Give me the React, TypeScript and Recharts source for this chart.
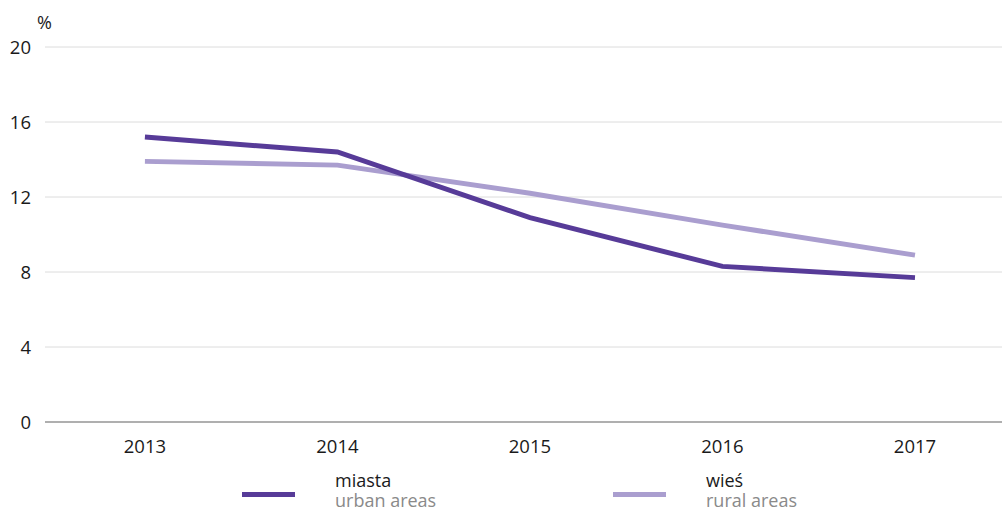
import React from 'react';
import { LineChart, Line, XAxis, YAxis, CartesianGrid } from 'recharts';

const years = [2013, 2014, 2015, 2016, 2017];
const urban = [15.2, 14.4, 10.9, 8.3, 7.7];
const rural = [13.9, 13.7, 12.2, 10.5, 8.9];
const yTicks = [0, 4, 8, 12, 16, 20];

const data = years.map((y, i) => ({ year: y, urban: urban[i], rural: rural[i] }));

const DARK = '#573b98';
const LIGHT = '#aa9ecf';
const FONT = '"Open Sans", sans-serif';

const legendItems = [
  { key: 'urban', pl: 'miasta', en: 'urban areas', color: DARK, x: 242 },
  { key: 'rural', pl: 'wieś', en: 'rural areas', color: LIGHT, x: 613 },
];

const LegendBlock = () => (
  <>
    {legendItems.map((it) => (
      <div key={it.key} style={{ position: 'absolute', left: it.x, top: 470 }}>
        <div style={{ position: 'absolute', left: 0, top: 21.5, width: 53, height: 5, background: it.color }} />
        <div style={{ position: 'absolute', left: 93, top: 0, height: 20, whiteSpace: 'nowrap', fontFamily: FONT, fontSize: 18, lineHeight: '20px', color: '#1a1a1a' }}>{it.pl}</div>
        <div style={{ position: 'absolute', left: 93, top: 20, height: 20, whiteSpace: 'nowrap', fontFamily: FONT, fontSize: 18, lineHeight: '20px', color: '#8a8a8a' }}>{it.en}</div>
      </div>
    ))}
  </>
);

export default function App() {
  return (
    <div style={{ position: 'absolute', left: 0, top: 0, width: 1002, height: 511, background: '#fff' }}>
      <div style={{ position: 'absolute', left: 37, top: 10, fontFamily: FONT, fontSize: 18, color: '#1a1a1a' }}>%</div>
      <LineChart width={1002} height={511} data={data} margin={{ top: 47, right: 0, left: 0, bottom: 0 }}>
        <CartesianGrid vertical={false} stroke="#dcdcdc" strokeWidth={1} />
        <XAxis
          dataKey="year"
          type="number"
          domain={[2012.481, 2017.452]}
          ticks={years}
          allowDataOverflow
          tickLine={false}
          axisLine={{ stroke: '#9a9a9a', strokeWidth: 1.5 }}
          tick={{ fill: '#1a1a1a', fontSize: 18.5, fontFamily: FONT }}
          tickMargin={12}
          height={89}
        />
        <YAxis
          width={45}
          domain={[0, 20]}
          ticks={yTicks}
          tickLine={false}
          axisLine={false}
          tick={{ fill: '#1a1a1a', fontSize: 18.5, fontFamily: FONT }}
          tickMargin={8}
          interval={0}
        />
        <Line dataKey="rural" stroke={LIGHT} strokeWidth={5} dot={false} isAnimationActive={false} strokeLinejoin="miter" />
        <Line dataKey="urban" stroke={DARK} strokeWidth={5} dot={false} isAnimationActive={false} strokeLinejoin="miter" />
      </LineChart>
      <LegendBlock />
    </div>
  );
}
